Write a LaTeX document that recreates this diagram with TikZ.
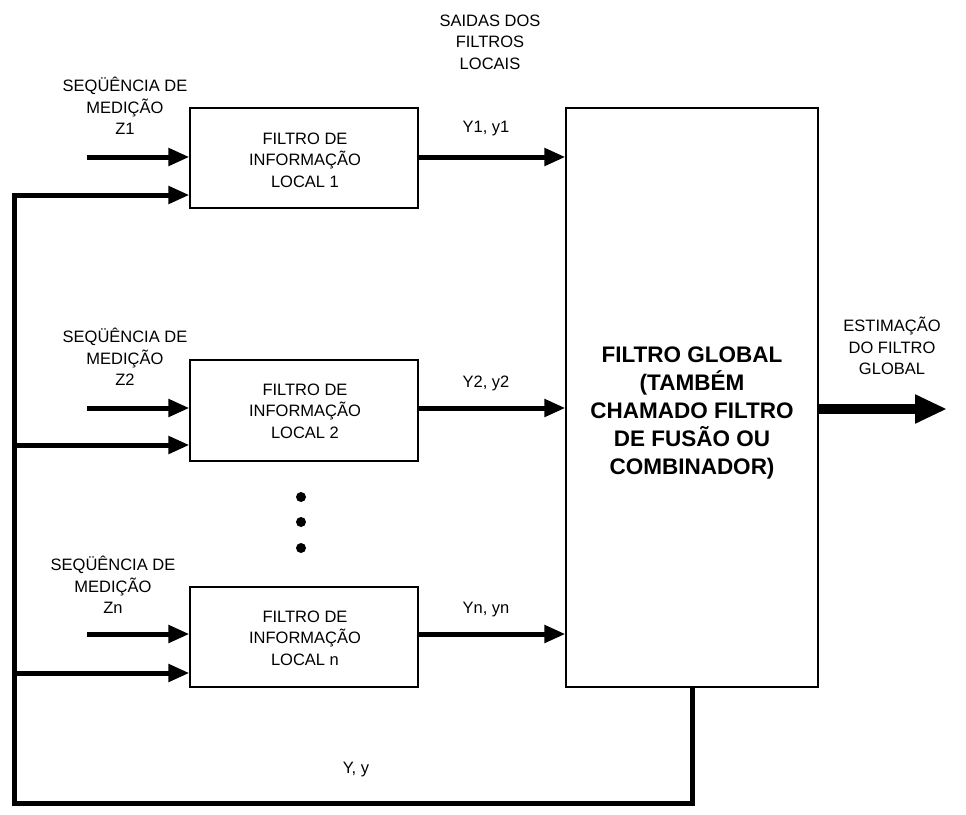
\documentclass[tikz,border=0pt]{standalone}
\usepackage{fontspec}
\setmainfont{Liberation Sans}
\usetikzlibrary{arrows.meta}
\begin{document}
\begin{tikzpicture}[x=1pt,y=-1pt,
  box/.style={draw,line width=1.2pt,inner sep=0pt},
  lbl/.style={align=center,font=\fontsize{16.5}{21.5}\selectfont,inner sep=0pt},
  inarrow/.style={line width=5pt,-{Triangle[length=21pt,width=17pt]}},
  fbline/.style={line width=5pt,line join=miter},
  outarrow/.style={line width=10pt,-{Triangle[length=32pt,width=27pt]}},
  dot/.style={circle,fill,inner sep=0pt,minimum size=10pt}]
\useasboundingbox (0,0) rectangle (966,814);
% boxes
\node[box,minimum width=228pt,minimum height=100pt] (b1) at (304,158) {};
\node[box,minimum width=228pt,minimum height=101pt] (b2) at (304,410.5) {};
\node[box,minimum width=228pt,minimum height=100pt] (bn) at (304,637) {};
\node[box,minimum width=252pt,minimum height=579pt] (gl) at (692,397.5) {};
% box texts
\node[lbl] (t1) at (305,160) {FILTRO DE\\INFORMAÇÃO\\LOCAL 1};
\node[lbl] (t2) at (305,411) {FILTRO DE\\INFORMAÇÃO\\LOCAL 2};
\node[lbl] (tn) at (305,638) {FILTRO DE\\INFORMAÇÃO\\LOCAL n};
\node[align=center,inner sep=0pt,font=\bfseries\fontsize{22.5}{28}\selectfont] (tg) at (692,413) {FILTRO GLOBAL\\(TAMBÉM\\CHAMADO FILTRO\\DE FUSÃO OU\\COMBINADOR)};
% labels
\node[lbl] (s1) at (125,106) {SEQÜÊNCIA DE\\MEDIÇÃO\\Z1};
\node[lbl] (s2) at (125,357) {SEQÜÊNCIA DE\\MEDIÇÃO\\Z2};
\node[lbl] (sn) at (113,585) {SEQÜÊNCIA DE\\MEDIÇÃO\\Zn};
\node[lbl] (sd) at (490,42) {SAIDAS DOS\\FILTROS\\LOCAIS};
\node[lbl] (es) at (892,346) {ESTIMAÇÃO\\DO FILTRO\\GLOBAL};
\node[lbl] (y1) at (486,129) {Y1, y1};
\node[lbl] (y2) at (486,383) {Y2, y2};
\node[lbl] (yn) at (486,610) {Yn, yn};
\node[lbl] (yy) at (356,770) {Y, y};
% dots
\node[dot] (d1) at (301,497) {};
\node[dot] (d2) at (301,522) {};
\node[dot] (d3) at (301,548) {};
% measurement inputs
\coordinate (z1) at (87,157);
\coordinate (z2) at (87,408);
\coordinate (zn) at (87,634);
\draw[inarrow] (z1) -- (b1.west |- z1);
\draw[inarrow] (z2) -- (b2.west |- z2);
\draw[inarrow] (zn) -- (bn.west |- zn);
% outputs of local filters
\draw[inarrow] (b1.east |- z1) -- (gl.west |- z1);
\draw[inarrow] (b2.east |- z2) -- (gl.west |- z2);
\draw[inarrow] (bn.east |- zn) -- (gl.west |- zn);
% global output
\coordinate (go) at (947,409);
\draw[outarrow] (gl.east |- go) -- (go);
% feedback
\coordinate (c0) at (14,803);
\coordinate (c1) at (14,195);
\coordinate (c2) at (14,445);
\coordinate (c3) at (14,673);
\draw[fbline] (gl.south) |- (c0) -- (c1) -- ++(2,0);
\draw[inarrow] ([xshift=-2.5pt]c1) -- (b1.west |- c1);
\draw[inarrow] (c2) -- (b2.west |- c2);
\draw[inarrow] (c3) -- (bn.west |- c3);
\end{tikzpicture}
\end{document}
